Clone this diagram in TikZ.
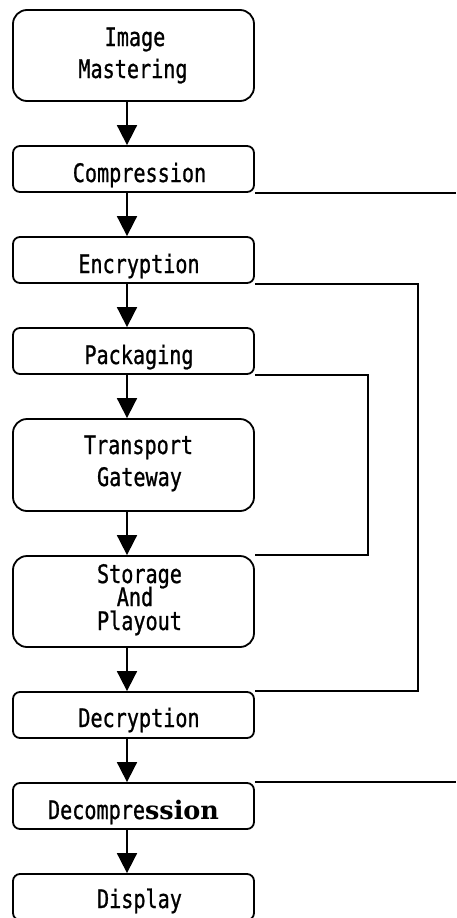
\documentclass[tikz,border=0pt]{standalone}
\usepackage{fontspec}
\usetikzlibrary{arrows.meta}
\newfontfamily\gfont[FakeStretch=0.79,FakeBold=0.9]{DejaVu Sans Mono}
\newfontfamily\serfont{DejaVu Serif}
\begin{document}
\begin{tikzpicture}[x=1pt,y=-1pt,
  box/.style={draw=black,line width=1.8pt,minimum width=241pt,inner sep=0pt,rounded corners=7pt,anchor=center},
  bigbox/.style={box,rounded corners=14pt},
  lbl/.style={inner sep=0pt,anchor=base,font=\gfont\fontsize{25.5}{25.5}\selectfont},
  flow/.style={line width=1.8pt,-{Triangle[width=20pt,length=20pt]}},
  fb/.style={line width=1.8pt}]
\fill[white] (0,0) rectangle (456,918);
\useasboundingbox (0,0) rectangle (456,918);
\coordinate (ax) at (127,0);
\coordinate (redge) at (456,0);
\coordinate (vxa) at (418,0);
\coordinate (vxb) at (368,0);
% boxes
\node[bigbox,minimum height=91pt] (im) at (133.5,55.5) {};
\node[box,minimum height=46pt] (comp) at (133.5,169) {};
\node[box,minimum height=46pt] (enc) at (133.5,260) {};
\node[box,minimum height=46pt] (pack) at (133.5,351) {};
\node[bigbox,minimum height=92pt] (tg) at (133.5,465) {};
\node[bigbox,minimum height=91pt] (sto) at (133.5,601.5) {};
\node[box,minimum height=46pt] (dec) at (133.5,715) {};
\node[box,minimum height=46pt] (decomp) at (133.5,806) {};
\node[box,minimum height=46pt] (disp) at (133.5,897) {};
% labels
\node[lbl] (t1) at (135,46) {Image};
\node[lbl] (t2) at (133,78) {Mastering};
\node[lbl] (t3) at (139.5,182) {Compression};
\node[lbl] (t4) at (139,273) {Encryption};
\node[lbl] (t5) at (139,364) {Packaging};
\node[lbl] (t6) at (138.5,454) {Transport};
\node[lbl] (t7) at (139.5,486) {Gateway};
\node[lbl,text depth=0pt] (t8) at (139.5,583) {Storage};
\node[lbl,text height=14pt,text depth=0pt] (t9) at (135,606) {And};
\node[lbl,text height=14pt] (t10) at (139.5,630) {Playout};
\node[lbl] (t11) at (139,727) {Decryption};
\node[lbl] (t12) at (133.5,819) {Decompre{\serfont\bfseries ssion}};
\node[lbl] (t13) at (139.5,908) {Display};
% main flow
\draw[flow] (im.south -| ax) -- (comp.north -| ax);
\draw[flow] (comp.south -| ax) -- (enc.north -| ax);
\draw[flow] (enc.south -| ax) -- (pack.north -| ax);
\draw[flow] (pack.south -| ax) -- (tg.north -| ax);
\draw[flow] (tg.south -| ax) -- (sto.north -| ax);
\draw[flow] (sto.south -| ax) -- (dec.north -| ax);
\draw[flow] (dec.south -| ax) -- (decomp.north -| ax);
\draw[flow] (decomp.south -| ax) -- (disp.north -| ax);
% side links
\draw[fb] (comp.south east) -- (comp.south east -| redge);
\draw[fb] (enc.south east) -- (enc.south east -| vxa) |- (dec.north east);
\draw[fb] (pack.south east) -- (pack.south east -| vxb) |- (sto.north east);
\draw[fb] (decomp.north east) -- (decomp.north east -| redge);
\end{tikzpicture}
\end{document}
